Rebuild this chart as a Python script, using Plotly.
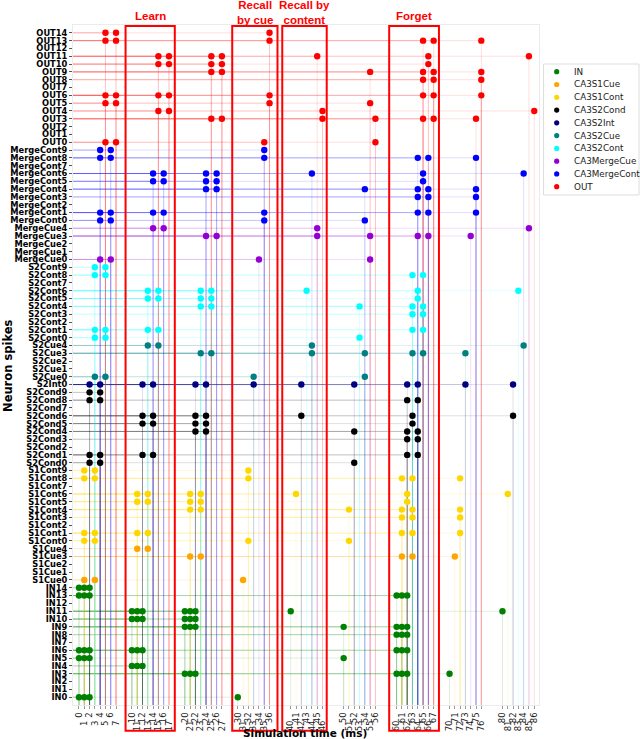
import plotly.graph_objects as go

# ---------------- data ----------------
group_names = ["IN", "CA3S1Cue", "CA3S1Cont", "CA3S2Cond", "CA3S2Int",
               "CA3S2Cue", "CA3S2Cont", "CA3MergeCue", "CA3MergeCont", "OUT"]
row_prefixes = ["IN", "S1Cue", "S1Cont", "S2Cond", "S2Int",
                "S2Cue", "S2Cont", "MergeCue", "MergeCont", "OUT"]
row_counts = [15, 5, 10, 10, 1, 5, 10, 5, 10, 15]
group_colors = ["#008000", "#FFA500", "#FFD700", "#000000", "#000080",
                "#008080", "#00FFFF", "#9400D3", "#0000FF", "#FF0000"]

time_ticks = [0, 1, 2, 3, 4, 5, 6, 7,
              10, 11, 12, 13, 14, 15, 16, 17,
              20, 21, 22, 23, 24, 25, 26, 27,
              30, 31, 32, 33, 34, 35, 36,
              40, 41, 42, 43, 44, 45, 46,
              50, 51, 52, 53, 54, 55, 56,
              60, 61, 62, 63, 64, 65, 66, 67,
              70, 71, 72, 73, 74, 75, 76,
              80, 81, 82, 83, 84, 85, 86]

# spike times (ms) per neuron index inside each population
in_spikes = {14: [0, 1, 2], 13: [0, 1, 2, 60, 61, 62],
             11: [10, 11, 12, 20, 21, 22, 40, 80], 10: [10, 11, 12, 20, 21, 22],
             9: [20, 21, 22, 50, 60, 61, 62], 8: [60, 61, 62],
             6: [0, 1, 2, 10, 11, 12, 60, 61, 62], 5: [0, 1, 2, 50],
             4: [10, 11, 12], 3: [20, 21, 22, 60, 61, 62, 70], 0: [0, 1, 2, 30]}
s1cue_spikes = {4: [11, 13], 3: [21, 23, 61, 63, 71], 0: [1, 3, 31]}
s1cont_spikes = {9: [1, 3, 32], 8: [1, 3, 32, 61, 63, 72],
                 6: [11, 13, 21, 23, 41, 62, 81], 5: [11, 13, 21, 23, 62],
                 4: [21, 23, 51, 61, 63, 72], 3: [61, 63, 72],
                 1: [1, 3, 11, 13, 61, 63, 72], 0: [1, 3, 32, 51]}
s2cond_spikes = {9: [2, 4], 8: [2, 4, 62, 64],
                 6: [12, 14, 22, 24, 42, 63, 82], 5: [12, 14, 22, 24, 63],
                 4: [22, 24, 52, 62, 64], 3: [62, 64],
                 1: [2, 4, 12, 14, 62, 64], 0: [2, 4, 52]}
s2int_spikes = {0: [2, 4, 12, 14, 22, 24, 33, 42, 52, 62, 64, 73, 82]}
s2cue_spikes = {4: [13, 15, 44, 84], 3: [23, 25, 44, 54, 63, 65, 73], 0: [3, 5, 33, 54]}
s2cont_spikes = {9: [3, 5], 8: [3, 5, 63, 65],
                 6: [13, 15, 23, 25, 43, 64, 83], 5: [13, 15, 23, 25, 64],
                 4: [23, 25, 53, 63, 65], 3: [63, 65],
                 1: [3, 5, 13, 15, 63, 65], 0: [3, 5, 53]}
mergecue_spikes = {4: [14, 16, 45, 85], 3: [24, 26, 45, 55, 64, 66, 74], 0: [4, 6, 34, 55]}
mergecont_spikes = {9: [4, 6, 35], 8: [4, 6, 35, 64, 66, 75],
                    6: [14, 16, 24, 26, 44, 65, 84], 5: [14, 16, 24, 26, 65],
                    4: [24, 26, 54, 64, 66, 75], 3: [64, 66, 75],
                    1: [4, 6, 14, 16, 35, 64, 66, 75], 0: [4, 6, 35, 54]}
out_spikes = {14: [5, 7, 36], 13: [5, 7, 36, 65, 67, 76],
              11: [15, 17, 25, 27, 45, 66, 85], 10: [15, 17, 25, 27, 66],
              9: [25, 27, 55, 65, 67, 76], 8: [65, 67, 76],
              6: [5, 7, 15, 17, 36, 65, 67, 76], 5: [5, 7, 36, 55],
              4: [15, 17, 46, 86], 3: [25, 27, 46, 56, 65, 67, 75],
              0: [5, 7, 35, 56]}
all_spikes = [in_spikes, s1cue_spikes, s1cont_spikes, s2cond_spikes, s2int_spikes,
              s2cue_spikes, s2cont_spikes, mergecue_spikes, mergecont_spikes, out_spikes]

phase_names = ["Learn", "Recall<br>by cue", "Recall by<br>content", "Forget"]
phase_start = [8.8, 28.95, 38.4, 58.6]
phase_end = [18.1, 37.5, 46.8, 68.0]

# ---------------- figure ----------------
X_RANGE = [-1.13, 86.9]
Y_RANGE = [-1.0, 86.0]

row_labels = []
offsets = []
for p, c in zip(row_prefixes, row_counts):
    offsets.append(len(row_labels))
    row_labels += [f"{p}{i}" for i in range(c)]


def hexrgba(h, a):
    h = h.lstrip("#")
    return f"rgba({int(h[0:2],16)},{int(h[2:4],16)},{int(h[4:6],16)},{a})"


fig = go.Figure()

# drop lines (to the left axis and to the bottom axis)
for name, col, spikes, off in zip(group_names, group_colors, all_spikes, offsets):
    lx, ly = [], []
    for idx, times in spikes.items():
        r = off + idx
        for t in times:
            lx += [X_RANGE[0], t, None, t, t, None]
            ly += [r, r, None, Y_RANGE[0], r, None]
    fig.add_trace(go.Scatter(x=lx, y=ly, mode="lines", showlegend=False,
                             line=dict(color=hexrgba(col, 0.13), width=1),
                             hoverinfo="skip"))

# spikes
for name, col, spikes, off in zip(group_names, group_colors, all_spikes, offsets):
    xs, ys = [], []
    for idx, times in spikes.items():
        for t in times:
            xs.append(t)
            ys.append(off + idx)
    fig.add_trace(go.Scatter(x=xs, y=ys, mode="markers", name=name,
                             marker=dict(color=col, size=6.4, line=dict(width=0)),
                             showlegend=False))

shapes = []
annotations = []

# phase boxes and titles
for nm, x0, x1 in zip(phase_names, phase_start, phase_end):
    shapes.append(dict(type="rect", xref="x", yref="paper", x0=x0, x1=x1,
                       y0=-0.038, y1=0.9985, line=dict(color="red", width=2)))
    two = "<br>" in nm
    annotations.append(dict(x=(x0 + x1) / 2, xref="x", yref="paper",
                            y=1.0185 if two else 1.0132, yanchor="middle",
                            text=nm, showarrow=False,
                            font=dict(family="Liberation Sans", size=11.5,
                                      color="red", weight="bold")))

# legend (drawn manually to mimic compact layout)
L_PX, T_PX, PW, PH = 73, 25, 466, 680
def px2paper(xp, yp):
    return (xp - L_PX) / PW, (T_PX + PH - yp) / PH

bx0, by0 = px2paper(543.5, 195)
bx1, by1 = px2paper(639, 64)
shapes.append(dict(type="rect", xref="paper", yref="paper", x0=bx0, x1=bx1,
                   y0=by0, y1=by1, line=dict(color="#dddddd", width=1),
                   fillcolor="rgba(255,255,255,0.8)", layer="above"))
for i, (name, col) in enumerate(zip(group_names, group_colors)):
    ypx = 71.7 + 12.78 * i
    mx, my = px2paper(556.7, ypx)
    tx, _ = px2paper(571.5, ypx)
    shapes.append(dict(type="circle", xref="paper", yref="paper",
                       xsizemode="pixel", ysizemode="pixel", xanchor=mx, yanchor=my,
                       x0=-2.6, x1=2.6, y0=-2.6, y1=2.6,
                       fillcolor=col, line=dict(width=0), layer="above"))
    annotations.append(dict(x=tx, y=my, xref="paper", yref="paper", xanchor="left",
                            yanchor="middle", text=name, showarrow=False,
                            font=dict(family="DejaVu Sans", size=8.8, color="#222")))

# axis titles
annotations.append(dict(x=0.498, y=-0.0405, xref="paper", yref="paper",
                        text="Simulation time (ms)", showarrow=False,
                        xanchor="center", yanchor="middle",
                        font=dict(family="DejaVu Sans", size=10.5, color="black",
                                  weight="bold")))
annotations.append(dict(x=-0.1395, y=0.5, xref="paper", yref="paper",
                        text="Neuron spikes", showarrow=False, textangle=-90,
                        xanchor="center", yanchor="middle",
                        font=dict(family="DejaVu Sans", size=11.5, color="black",
                                  weight="bold")))

tick_text = [str(t) if i % 2 == 0 else str(t) + "\u00a0\u00a0\u00a0"
             for i, t in enumerate(time_ticks)]

fig.update_layout(
    width=640, height=739,
    margin=dict(l=73, r=101, t=25, b=34),
    plot_bgcolor="white", paper_bgcolor="white",
    showlegend=False,
    shapes=shapes, annotations=annotations,
    xaxis=dict(range=X_RANGE, tickmode="array", tickvals=time_ticks, ticktext=tick_text,
               tickangle=-90, showgrid=False, zeroline=False,
               showline=True, linecolor="#ebebeb", mirror=True,
               ticks="outside", ticklen=3, tickcolor="#999",
               tickfont=dict(family="DejaVu Sans", size=8.5, color="#222"),
               automargin=False),
    yaxis=dict(range=Y_RANGE, tickmode="array", tickvals=list(range(len(row_labels))),
               ticktext=row_labels, showgrid=False, zeroline=False,
               showline=True, linecolor="#ebebeb", mirror=True,
               ticks="outside", ticklen=3, tickcolor="#555",
               tickfont=dict(family="DejaVu Sans", size=8.3, color="black", weight="bold"),
               automargin=False),
)

fig.write_html("out.html", config={"displayModeBar": False},
               post_script="document.body.style.margin='0';document.body.style.overflow='hidden';")
